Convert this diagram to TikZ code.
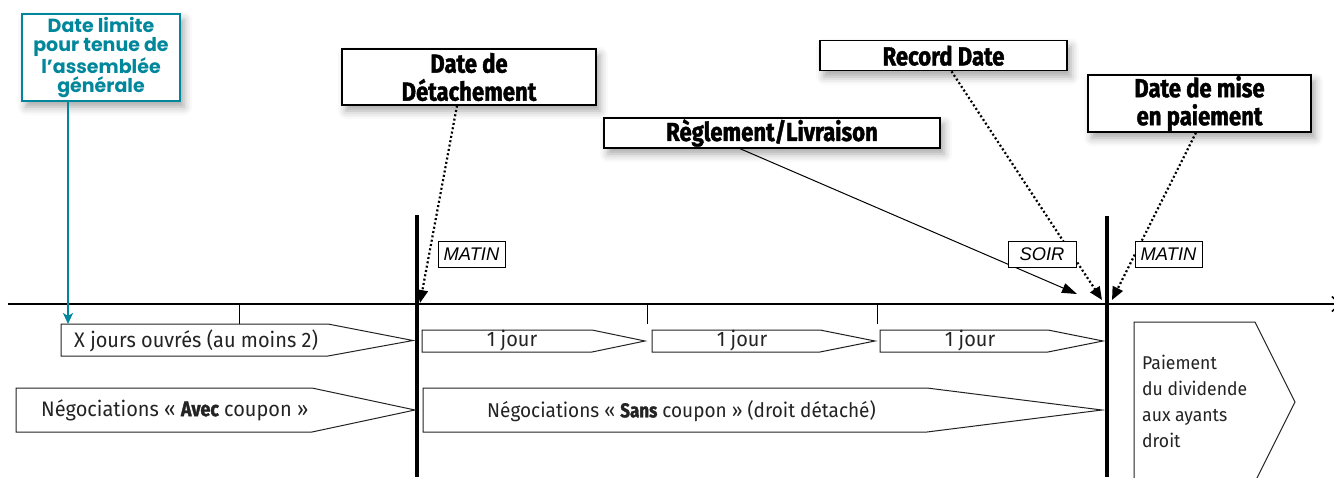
\documentclass[tikz,border=0pt]{standalone}
\usepackage{fontspec}
\setmainfont{Fira Sans}[FakeStretch=0.95]
\newfontfamily\headfont{Fira Sans}[FakeStretch=0.85, FakeBold=1.5]
\newfontfamily\tealfont{Poppins}
\newfontfamily\tagfont{Liberation Sans}
\usetikzlibrary{arrows.meta,shadows.blur}
\definecolor{deadline}{RGB}{0,135,155}
\definecolor{ink}{RGB}{35,35,35}
\begin{document}
\begin{tikzpicture}[x=1pt,y=-1pt,
  headbox/.style={draw=black, line width=1.3pt, fill=white, inner sep=0pt, align=center,
    font=\headfont\bfseries\fontsize{26}{28}\selectfont,
    blur shadow={shadow xshift=4pt, shadow yshift=-6pt, shadow blur radius=8pt, shadow opacity=35}},
  tealbox/.style={headbox, draw=deadline, text=deadline,
    font=\tealfont\bfseries\fontsize{19}{19}\selectfont},
  tag/.style={draw=black, line width=0.9pt, fill=white, inner sep=0pt, minimum height=26pt,
    font=\tagfont\itshape\fontsize{18.3}{18.3}\selectfont},
  period/.style={draw=ink, line width=1pt, fill=white, line join=miter},
  phase/.style={font=\fontsize{21}{21}\selectfont, text=ink, inner sep=0pt},
  dotlink/.style={line width=2.2pt, dash pattern=on 2pt off 2.4pt,
    -{Triangle[length=13pt,width=11pt]}},
  solidlink/.style={line width=1pt, -{Triangle[length=15pt,width=10pt]}},
  deadlinelink/.style={draw=deadline, line width=2pt,
    -{Stealth[length=11pt,width=10pt,inset=3pt]}}
]
\useasboundingbox (0,0) rectangle (1334,477);

% time axis
\coordinate (t0) at (8,304);
\coordinate (t1) at (1341,304);
\draw[line width=1.5pt, -{Straight Barb[length=8pt,width=15pt]}] (t0) -- (t1);
\foreach \x in {239,647,877}
  \draw[line width=1pt] (\x,304) -- (\x,324);

% ex-date and payment-date markers
\draw[line width=3.5pt] (417,215) -- (417,477);
\draw[line width=3.5pt] (1107,216) -- (1107,477);

% periods, first row
\draw[period] (61,324) -- (328,324) -- (413,340.5) -- (328,356) -- (61,356) -- cycle;
\draw[period] (422,330) -- (592,330) -- (645,341) -- (592,352) -- (422,352) -- cycle;
\draw[period] (652,330) -- (820,330) -- (875,341) -- (820,352) -- (652,352) -- cycle;
\draw[period] (880,330) -- (1048,330) -- (1103,341) -- (1048,352) -- (880,352) -- cycle;
% periods, second row
\draw[period] (16,388) -- (312,388) -- (415,410) -- (312,432) -- (16,432) -- cycle;
\draw[period] (423,388) -- (927,388) -- (1102,410) -- (927,432) -- (423,432) -- cycle;
\draw[period] (1134,322) -- (1255,322) -- (1295,402) -- (1255,482) -- (1134,482) -- cycle;

\node[phase, anchor=west] (xdays) at (74,341) {X jours ouvrés (au moins 2)};
\node[phase] (day1) at (512,341) {1 jour};
\node[phase] (day2) at (742,341) {1 jour};
\node[phase] (day3) at (970,341) {1 jour};
\node[phase, anchor=west] (withc) at (41,410)
  {Négociations « {\headfont\bfseries Avec} coupon »};
\node[phase, anchor=west, font=\fontsize{20}{20}\selectfont] (without) at (487,411)
  {Négociations « {\headfont\bfseries Sans} coupon » (droit détaché)};
\node[phase, anchor=north west, align=left, font=\fontsize{18.5}{26}\selectfont] (payout)
  at (1142,355) {Paiement\\du dividende\\aux ayants\\droit};

% event labels
\node[tealbox, minimum width=158pt, minimum height=87pt] (limit) at (101,57.5)
  {Date limite\\pour tenue de\\l’assemblée\\générale};
\node[headbox, minimum width=254pt, minimum height=56pt] (detach) at (469,77)
  {Date de\\Détachement};
\node[headbox, minimum width=247pt, minimum height=30pt] (record) at (943.5,55.7)
  {Record Date};
\node[headbox, minimum width=336pt, minimum height=30pt] (settle) at (772,133)
  {Règlement/Livraison};
\node[headbox, minimum width=223pt, minimum height=57pt] (pay) at (1199.5,103.5)
  {Date de mise\\en paiement};

% connectors
\coordinate (limitPt) at (68,324);
\coordinate (detachPt) at (420,303);
\coordinate (settlePt) at (1077,294);
\coordinate (recordPt) at (1102,300);
\coordinate (payPt) at (1112,300);
\draw[deadlinelink] ([xshift=-33pt]limit.south) -- (limitPt);
\draw[dotlink] ([xshift=-12pt]detach.south) -- (detachPt);
\draw[solidlink] ([xshift=-32pt]settle.south) -- (settlePt);
\draw[dotlink] ([xshift=8pt]record.south) -- (recordPt);
\draw[dotlink] ([xshift=-3.5pt]pay.south) -- (payPt);

% time-of-day tags
\node[tag, minimum width=67pt] (matinA) at (471.5,254) {MATIN};
\node[tag, minimum width=68pt] (soir) at (1042,254) {SOIR};
\node[tag, minimum width=67pt] (matinB) at (1168.5,254) {MATIN};
\end{tikzpicture}
\end{document}
